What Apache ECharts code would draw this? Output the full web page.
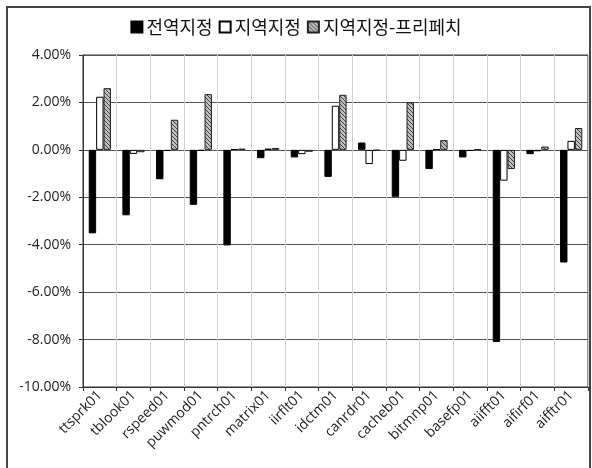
<!DOCTYPE html>
<html><head><meta charset="utf-8">
<script src="https://cdn.jsdelivr.net/npm/echarts@6/dist/echarts.min.js"></script>
<style>html,body{margin:0;padding:0;background:#fff}#c{width:592px;height:468px}</style>
</head><body><div id="c"></div>
<script>
const categories = ['ttsprk01','tblook01','rspeed01','puwmod01','pntrch01','matrix01','iirflt01','idctm01','canrdr01','cacheb01','bitmnp01','basefp01','aiifft01','aifirf01','aifftr01'];
const seriesNames = ['전역지정','지역지정','지역지정-프리페치'];
const globalVals = [-3.52,-2.76,-1.24,-2.32,-4.03,-0.35,-0.32,-1.14,0.31,-1.98,-0.81,-0.32,-8.10,-0.18,-4.75];
const localVals = [2.24,-0.17,-0.05,-0.04,0.03,0.05,-0.18,1.86,-0.60,-0.46,0.02,-0.05,-1.30,-0.06,0.38];
const prefetchVals = [2.60,-0.10,1.27,2.35,0.05,0.08,-0.08,2.32,-0.03,2.00,0.41,0.02,-0.81,0.14,0.92];
const yTicks = {min:-10, max:4, interval:2};

function hatch(){
  const c = document.createElement('canvas'); c.width = 4; c.height = 4;
  const g = c.getContext('2d');
  g.fillStyle = '#bdbdbd'; g.fillRect(0,0,4,4);
  g.strokeStyle = '#444'; g.lineWidth = 1;
  g.beginPath(); g.moveTo(0,0); g.lineTo(4,4); g.stroke();
  g.beginPath(); g.moveTo(-1,3); g.lineTo(1,5); g.stroke();
  g.beginPath(); g.moveTo(3,-1); g.lineTo(5,1); g.stroke();
  return c;
}
const pat = {image: hatch(), repeat: 'repeat'};
const font = 'Open Sans, Noto Sans, sans-serif';
const chart = echarts.init(document.getElementById('c'), null, {renderer:'canvas'});
chart.setOption({
  backgroundColor:'#fff',
  animation:false,
  graphic:[{type:'rect', shape:{x:7,y:7,width:583,height:475}, style:{fill:'none', stroke:'#444', lineWidth:2}, silent:true}],
  legend:{top:13, left:'center', itemWidth:11, itemHeight:11, itemGap:6, icon:'rect',
    textStyle:{fontSize:18, color:'#111', fontFamily:'Noto Sans CJK KR, sans-serif', padding:[0,0,0,-1]},
    data:seriesNames},
  grid:{left:83, right:4, top:55, bottom:81, show:true, borderColor:'#333', borderWidth:1, backgroundColor:'#fff'},
  xAxis:{type:'category', data:categories,
    axisLine:{onZero:false, lineStyle:{color:'#333'}},
    axisTick:{show:true, interval:0, length:4, lineStyle:{color:'#333'}},
    axisLabel:{interval:0, rotate:45, fontSize:14, color:'#222', fontFamily:font, margin:6},
    splitLine:{show:true, interval:0, lineStyle:{color:'#d0d0d0'}}},
  yAxis:{type:'value', min:yTicks.min, max:yTicks.max, interval:yTicks.interval,
    axisLine:{show:true, lineStyle:{color:'#333'}},
    axisTick:{show:true, length:4, lineStyle:{color:'#333'}},
    axisLabel:{formatter:v=>v.toFixed(2)+'%', fontSize:14, color:'#222', fontFamily:font, margin:12},
    splitLine:{lineStyle:{color:'#555', width:1}}},
  series:[
    {name:seriesNames[0], type:'bar', data:globalVals, barGap:'0%', barCategoryGap:'34%',
     itemStyle:{color:'#000', borderColor:'#000', borderWidth:1}},
    {name:seriesNames[1], type:'bar', data:localVals,
     itemStyle:{color:'#fff', borderColor:'#000', borderWidth:1}},
    {name:seriesNames[2], type:'bar', data:prefetchVals,
     itemStyle:{color:pat, borderColor:'#222', borderWidth:1}}
  ]
});
</script></body></html>
